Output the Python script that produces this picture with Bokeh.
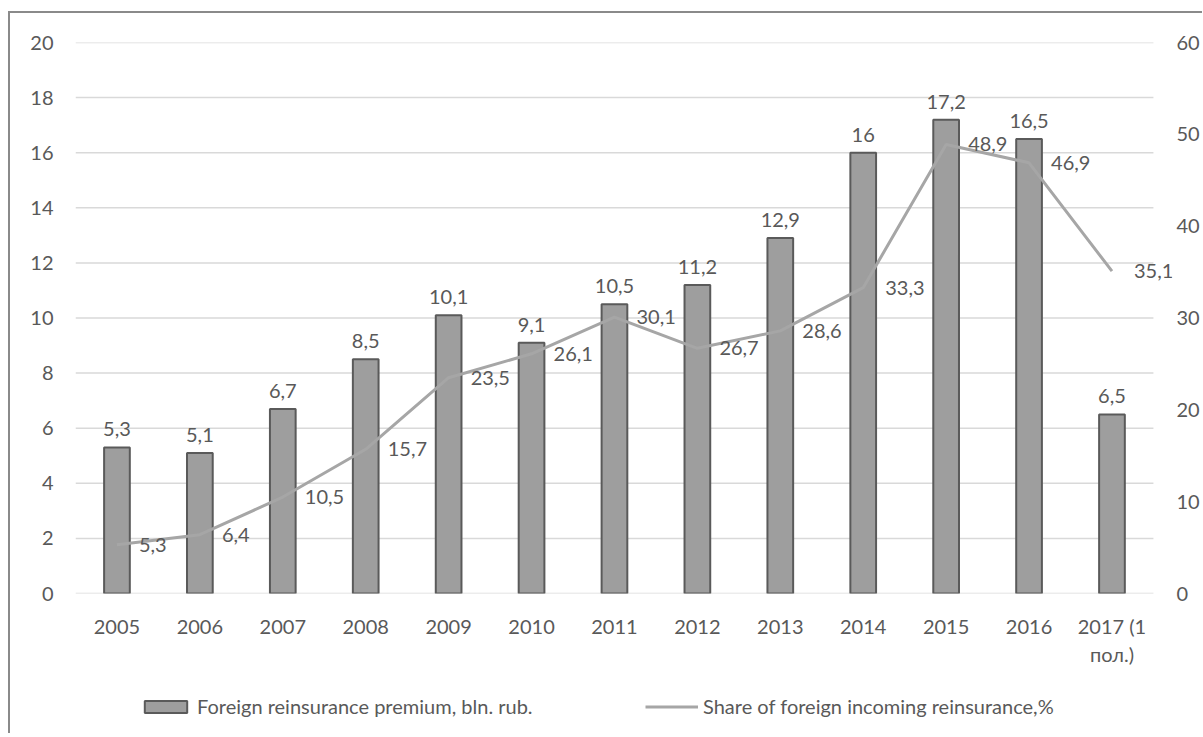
from bokeh.plotting import figure
from bokeh.layouts import column
from bokeh.models import (ColumnDataSource, Range1d, LinearAxis,
                          FixedTicker, Legend, LegendItem)
from bokeh.core.properties import value
from bokeh.embed import file_html
from bokeh.resources import INLINE

years = ["2005", "2006", "2007", "2008", "2009", "2010", "2011", "2012",
         "2013", "2014", "2015", "2016", "2017 (1\nпол.)"]
premium = [5.3, 5.1, 6.7, 8.5, 10.1, 9.1, 10.5, 11.2, 12.9, 16, 17.2, 16.5, 6.5]
share = [5.3, 6.4, 10.5, 15.7, 23.5, 26.1, 30.1, 26.7, 28.6, 33.3, 48.9, 46.9, 35.1]
left_ticks = [0, 2, 4, 6, 8, 10, 12, 14, 16, 18, 20]
right_ticks = [0, 10, 20, 30, 40, 50, 60]
bar_name = "Foreign reinsurance premium, bln. rub."
line_name = "Share of foreign incoming reinsurance,%"


def fmt(v):
    return f"{v:g}".replace(".", ",")


n = len(years)
idx = list(range(n))
src = ColumnDataSource(dict(
    x=idx, premium=premium, share=share,
    plab=[fmt(v) for v in premium], slab=[fmt(v) for v in share],
))
grid_src = ColumnDataSource(dict(
    x0=[-0.5] * len(left_ticks), x1=[n - 0.5] * len(left_ticks), y=left_ticks,
))

FONT = "Lato"
FS = "20px"
TXT = "#595959"
BAR_FILL = "#9e9e9e"
BAR_LINE = "#5a5a5a"
LINE_COL = "#a6a6a6"

p = figure(x_range=Range1d(-0.5, n - 0.5 + 0.23), y_range=Range1d(0, 20),
           width=1192, height=670, output_backend="svg", toolbar_location=None,
           min_border_left=65, min_border_right=30, min_border_top=29,
           min_border_bottom=90)
p.outline_line_color = None
p.extra_y_ranges = {"right": Range1d(0, 60)}
p.xgrid.grid_line_color = None
p.ygrid.grid_line_color = None

p.segment(x0="x0", x1="x1", y0="y", y1="y", source=grid_src,
          line_color="#d9d9d9", line_width=1.5)

for ax in [p.xaxis[0], p.yaxis[0]]:
    ax.axis_line_color = None
    ax.major_tick_line_color = None
    ax.minor_tick_line_color = None
    ax.major_tick_out = 0
    ax.major_tick_in = 0
    ax.major_label_text_font = FONT
    ax.major_label_text_font_size = FS
    ax.major_label_text_color = TXT
p.yaxis[0].ticker = FixedTicker(ticks=left_ticks)
p.yaxis[0].major_label_standoff = 22
p.xaxis[0].ticker = FixedTicker(ticks=idx)
p.xaxis[0].major_label_overrides = {i: y for i, y in zip(idx, years)}
p.xaxis[0].major_label_standoff = 20

rax = LinearAxis(y_range_name="right", ticker=FixedTicker(ticks=right_ticks))
rax.axis_line_color = None
rax.major_tick_line_color = None
rax.minor_tick_line_color = None
rax.major_tick_out = 0
rax.major_tick_in = 0
rax.major_label_text_font = FONT
rax.major_label_text_font_size = FS
rax.major_label_text_color = TXT
rax.major_label_standoff = 4
p.add_layout(rax, "right")

p.vbar(x="x", top="premium", width=0.31, source=src,
       fill_color=BAR_FILL, line_color=BAR_LINE, line_width=2)
p.line(x="x", y="share", source=src, y_range_name="right",
       line_color=LINE_COL, line_width=3)

p.text(x="x", y="premium", text="plab", source=src, text_align="center",
       text_baseline="alphabetic", y_offset=-18, text_font=value(FONT),
       text_font_size=FS, text_color=TXT)
p.text(x="x", y="share", text="slab", source=src, y_range_name="right",
       text_align="left", text_baseline="middle", x_offset=22,
       text_font=value(FONT), text_font_size=FS, text_color=TXT)

# legend strip below the chart: hidden renderers only provide legend keys
lg = figure(width=1192, height=50, output_backend="svg", toolbar_location=None,
            x_axis_type=None, y_axis_type=None, min_border=0,
            x_range=Range1d(-0.5, n - 0.5), y_range=Range1d(0, 20))
lg.outline_line_color = None
lg.xgrid.grid_line_color = None
lg.ygrid.grid_line_color = None
rb = lg.vbar(x="x", top="premium", width=0.31, source=src, visible=False,
             fill_color=BAR_FILL, line_color=BAR_LINE, line_width=2)
rl = lg.line(x="x", y="share", source=src, visible=False,
             line_color=LINE_COL, line_width=3)

common = dict(orientation="horizontal", glyph_width=53, glyph_height=15,
              label_standoff=5, padding=0, margin=0, border_line_color=None,
              background_fill_alpha=0, label_text_font=FONT,
              label_text_font_size=FS, label_text_color=TXT,
              click_policy="none")
leg1 = Legend(items=[LegendItem(label=bar_name, renderers=[rb])],
              location=(64, 15), **common)
leg2 = Legend(items=[LegendItem(label=line_name, renderers=[rl])],
              location=(570, 15), **common)
lg.add_layout(leg1)
lg.add_layout(leg2)

layout = column(p, lg, spacing=0,
                styles={"margin-left": "8px", "margin-top": "11px",
                        "border-left": "2px solid #8a8a8a",
                        "border-top": "2px solid #8a8a8a"})

open("out.html", "w").write(file_html(layout, INLINE))
